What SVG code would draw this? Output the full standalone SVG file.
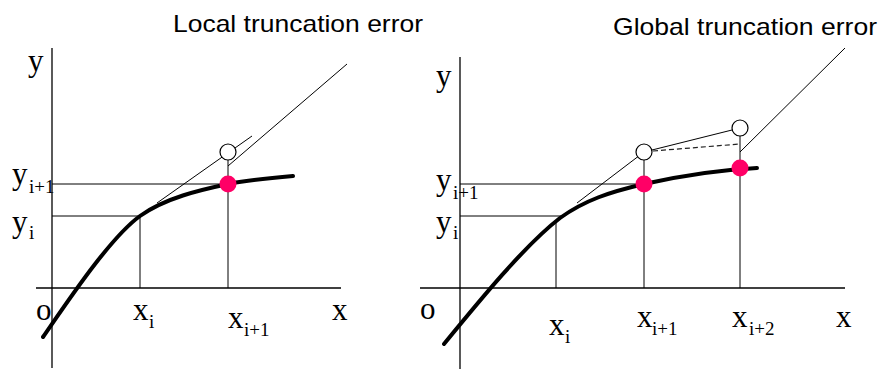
<svg xmlns="http://www.w3.org/2000/svg" width="879" height="369" viewBox="0 0 879 369">
<style>
.title{font-family:"Liberation Sans",Arial,sans-serif;font-size:24px;fill:#000}
.lbl{font-family:"Liberation Serif","Times New Roman",serif;font-size:31px;fill:#000}
.sub{font-size:19px}
.axis{stroke:#000;stroke-width:1.3;fill:none}
.thin{stroke:#000;stroke-width:1;fill:none}
.curve{stroke:#000;stroke-width:4;fill:none;stroke-linecap:round}
.dash{stroke:#222;stroke-width:1.2;fill:none;stroke-dasharray:5 3}
.open{fill:#fff;stroke:#000;stroke-width:1.2}
.dot{fill:#FF0066}
</style>
<rect width="879" height="369" fill="#fff"/>
<g id="local">
  <text class="title" x="173" y="32" textLength="250" lengthAdjust="spacingAndGlyphs">Local truncation error</text>
  <g id="local-axes">
    <line class="axis" x1="52" y1="48" x2="52" y2="368"/>
    <line class="axis" x1="36" y1="288" x2="341" y2="288"/>
  </g>
  <g id="local-guides">
    <line class="thin" x1="52" y1="184" x2="228" y2="184"/>
    <line class="thin" x1="52" y1="216" x2="140" y2="216"/>
    <line class="thin" x1="140" y1="216" x2="140" y2="288"/>
    <line class="thin" x1="228" y1="160" x2="228" y2="288"/>
    <line class="thin" x1="157" y1="203" x2="252" y2="136"/>
    <line class="thin" x1="228" y1="166" x2="347" y2="64"/>
  </g>
  <path class="curve" d="M43,337 C70,298 110,238 140,216 C165,198 200,190 228,184 C250,180 270,178 293,176"/>
  <circle class="open" cx="228" cy="152" r="8"/>
  <circle class="dot" cx="228" cy="184" r="8.5"/>
  <g id="local-labels">
    <text class="lbl" x="28" y="71">y</text>
    <text class="lbl" x="12" y="184">y<tspan class="sub" x="29" y="193">i+1</tspan></text>
    <text class="lbl" x="12" y="232">y<tspan class="sub" x="29" y="239">i</tspan></text>
    <text class="lbl" x="36" y="320">o</text>
    <text class="lbl" x="133" y="320">x<tspan class="sub" x="149" y="328">i</tspan></text>
    <text class="lbl" x="228" y="328">x<tspan class="sub" x="244" y="336">i+1</tspan></text>
    <text class="lbl" x="332" y="320">x</text>
  </g>
</g>
<g id="global">
  <text class="title" x="613" y="35" textLength="264" lengthAdjust="spacingAndGlyphs">Global truncation error</text>
  <g id="global-axes">
    <line class="axis" x1="460" y1="57" x2="460" y2="369"/>
    <line class="axis" x1="420" y1="288" x2="845" y2="288"/>
  </g>
  <g id="global-guides">
    <line class="thin" x1="460" y1="184" x2="644" y2="184"/>
    <line class="thin" x1="460" y1="216" x2="562" y2="216"/>
    <line class="thin" x1="556" y1="223" x2="556" y2="288"/>
    <line class="thin" x1="644" y1="160" x2="644" y2="288"/>
    <line class="thin" x1="740" y1="136" x2="740" y2="288"/>
    <line class="thin" x1="577" y1="203" x2="644" y2="152"/>
    <line class="thin" x1="644" y1="152" x2="740" y2="128"/>
    <line class="dash" x1="653" y1="151" x2="740" y2="144"/>
    <line class="thin" x1="740" y1="152" x2="845" y2="48"/>
  </g>
  <path class="curve" d="M444,344 C480,300 525,245 560,218 C585,200 610,192 644,184 C680,176 715,170 757,168"/>
  <circle class="open" cx="644" cy="152" r="8"/>
  <circle class="open" cx="740" cy="128" r="8"/>
  <circle class="dot" cx="644" cy="184" r="8.5"/>
  <circle class="dot" cx="740" cy="168" r="8.5"/>
  <g id="global-labels">
    <text class="lbl" x="436" y="86">y</text>
    <text class="lbl" x="436" y="190">y<tspan class="sub" x="453" y="199">i+1</tspan></text>
    <text class="lbl" x="436" y="232">y<tspan class="sub" x="453" y="239">i</tspan></text>
    <text class="lbl" x="420" y="319">o</text>
    <text class="lbl" x="549" y="335">x<tspan class="sub" x="565" y="343">i</tspan></text>
    <text class="lbl" x="637" y="327">x<tspan class="sub" x="652" y="335">i+1</tspan></text>
    <text class="lbl" x="732" y="327">x<tspan class="sub" x="749" y="335">i+2</tspan></text>
    <text class="lbl" x="836" y="327">x</text>
  </g>
</g>
</svg>
